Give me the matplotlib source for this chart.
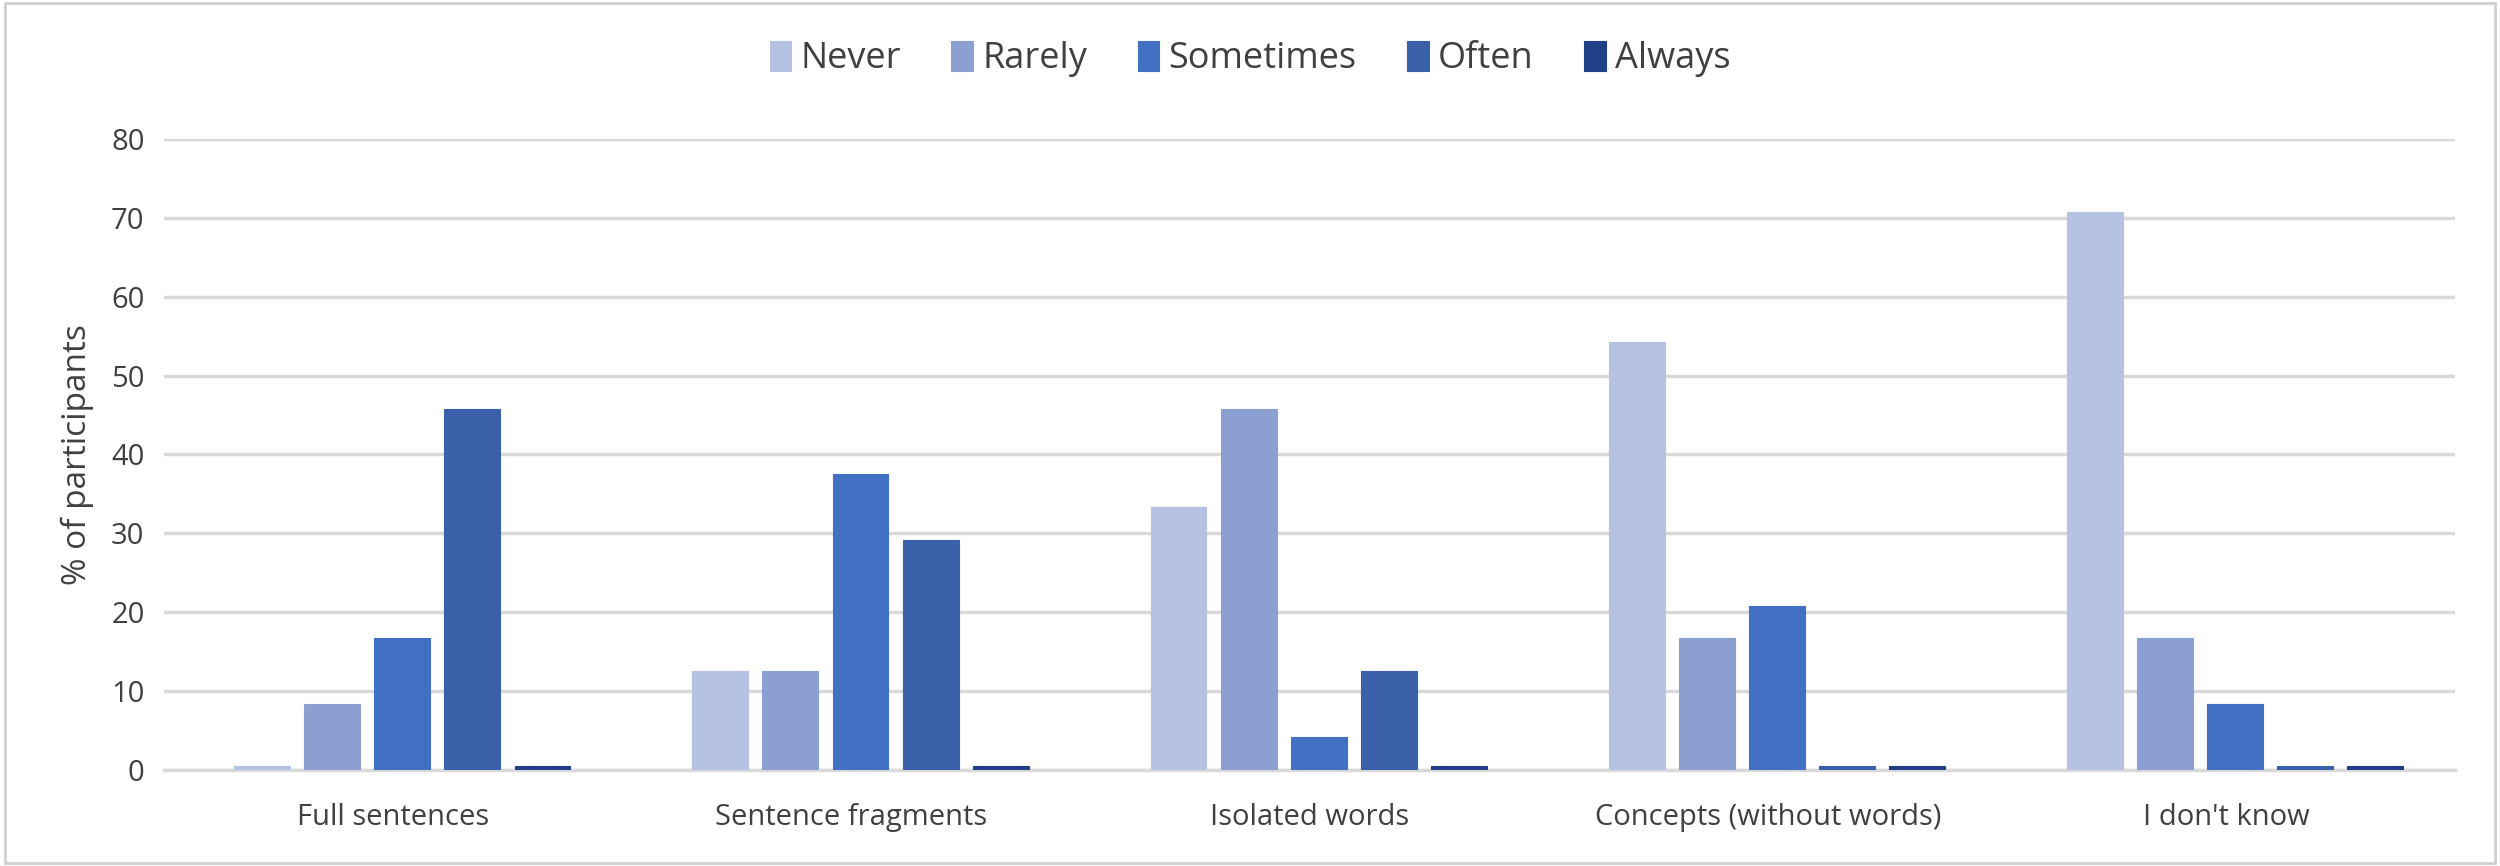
import numpy as np
import matplotlib.pyplot as plt
from matplotlib.patches import Rectangle

# survey answers, % of participants (n = 24); tiny stubs are how the source draws zero
categories = ["Full sentences", "Sentence fragments", "Isolated words",
              "Concepts (without words)", "I don't know"]
never = [0.5, 12.5, 33.3, 54.2, 70.8]
rarely = [8.3, 12.5, 45.8, 16.7, 16.7]
sometimes = [16.7, 37.5, 4.2, 20.8, 8.3]
often = [45.8, 29.2, 12.5, 0.5, 0.5]
always = [0.5, 0.5, 0.5, 0.5, 0.5]
series_names = ["Never", "Rarely", "Sometimes", "Often", "Always"]
yticks = [0, 10, 20, 30, 40, 50, 60, 70, 80]

colors = ["#B6C2E1", "#8C9FD1", "#4270C3", "#3960A9", "#1F3F86"]

plt.rcParams['font.family'] = ['Open Sans', 'DejaVu Sans']

fig = plt.figure(figsize=(25, 8.66), dpi=100)
ax = fig.add_axes([0.0656, 0.111, 0.9164, 0.7285])

series = [never, rarely, sometimes, often, always]
x = np.arange(len(categories))
width = 0.122
pitch = 0.153
for i, (vals, name, c) in enumerate(zip(series, series_names, colors)):
    ax.bar(x + 0.02 + (i - 2) * pitch, vals, width, color=c, label=name,
           edgecolor=c, linewidth=0.8, zorder=3)

ax.set_xlim(-0.5, len(categories) - 0.5)
ax.set_ylim(0, 80)
ax.set_yticks(yticks)
ax.set_xticks(x)
ax.set_xticklabels(categories, fontsize=21, color="#404040")
ax.tick_params(axis='y', labelsize=21, labelcolor="#404040", length=0, pad=14)
ax.tick_params(axis='x', length=0, pad=24)
ax.grid(axis='y', color="#D9D9D9", linewidth=2.5, zorder=0)
for s in ["top", "right", "left"]:
    ax.spines[s].set_visible(False)
ax.spines["bottom"].set_color("#D9D9D9")
ax.spines["bottom"].set_linewidth(2.5)
ax.set_ylabel("% of participants", fontsize=24, color="#404040", labelpad=12)

leg = fig.legend(loc="center", bbox_to_anchor=(0.5, 0.932), ncol=5, frameon=False,
                 fontsize=26, handlelength=0.6, handleheight=0.9, handletextpad=0.25,
                 columnspacing=1.4, labelcolor="#404040")

# thin grey frame round the whole chart
fig.patches.append(Rectangle((0.002, 0.003), 0.996, 0.994, transform=fig.transFigure,
                             fill=False, edgecolor="#D0D0D0", linewidth=2))

fig.savefig("out.png", dpi=100, facecolor="white")
